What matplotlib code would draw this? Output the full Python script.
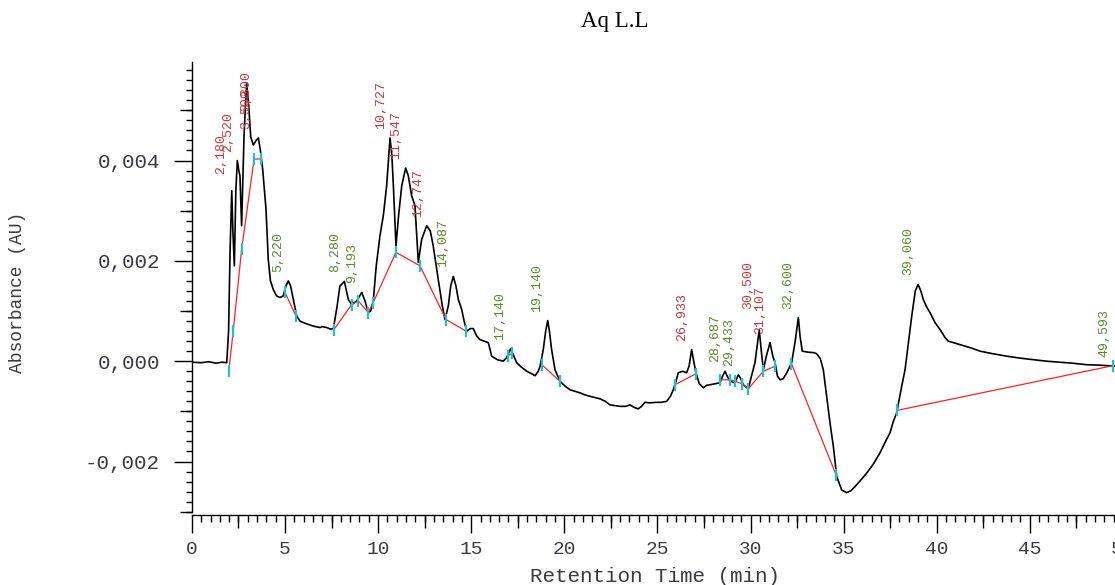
import numpy as np
import matplotlib
matplotlib.use("Agg")
import matplotlib.pyplot as plt
from matplotlib.ticker import MultipleLocator, FixedLocator, FuncFormatter

# ---------------- data ----------------
time_min = [0.0, 0.5, 0.9, 1.3, 1.6, 1.87, 1.97, 2.05, 2.14, 2.20, 2.28, 2.36, 2.44, 2.52, 2.58, 2.67,
            2.80, 2.94, 3.05, 3.16, 3.30, 3.45, 3.57, 3.68, 3.80, 3.98, 4.10, 4.22, 4.37, 4.55, 4.73,
            4.90, 5.05, 5.18, 5.30, 5.45, 5.63, 5.80, 5.98, 6.2, 6.52, 6.88, 7.0, 7.24, 7.45, 7.6, 7.8,
            7.95, 8.19, 8.30, 8.40, 8.58, 8.85, 9.12, 9.30, 9.47, 9.60, 9.74, 9.90, 10.10, 10.28, 10.46,
            10.64, 10.74, 10.82, 10.96, 11.1, 11.27, 11.48, 11.62, 11.80, 11.98, 12.16, 12.34, 12.61,
            12.80, 12.96, 13.23, 13.45, 13.59, 13.77, 13.90, 14.04, 14.18, 14.31, 14.49, 14.62, 14.76,
            14.95, 15.11, 15.3, 15.47, 15.7, 15.92, 16.10, 16.4, 16.72, 16.9, 17.12, 17.26, 17.44, 17.7,
            17.98, 18.2, 18.43, 18.60, 18.70, 18.87, 19.0, 19.11, 19.2, 19.32, 19.50, 19.77, 20.05,
            20.31, 20.84, 21.1, 21.38, 21.92, 22.2, 22.45, 22.99, 23.3, 23.52, 23.75, 23.97, 24.15,
            24.33, 24.6, 24.96, 25.2, 25.5, 25.7, 25.85, 26.0, 26.12, 26.35, 26.57, 26.7, 26.84, 26.95,
            27.07, 27.25, 27.47, 27.65, 27.82, 28.1, 28.36, 28.5, 28.63, 28.75, 28.9, 29.16, 29.35,
            29.48, 29.61, 29.88, 30.05, 30.24, 30.47, 30.58, 30.69, 30.85, 31.05, 31.2, 31.32, 31.45,
            31.59, 31.75, 31.95, 32.21, 32.40, 32.57, 32.66, 32.78, 33.1, 33.4, 33.55, 33.75, 33.91,
            34.09, 34.27, 34.45, 34.63, 34.9, 35.17, 35.4, 35.61, 35.9, 36.24, 36.6, 36.95, 37.25,
            37.49, 37.67, 37.85, 38.12, 38.30, 38.39, 38.66, 38.85, 39.0, 39.15, 39.28, 39.46, 39.64,
            39.91, 40.18, 40.45, 40.62, 40.9, 41.25, 41.8, 42.33, 43.0, 43.76, 44.5, 45.19, 45.9,
            46.62, 47.3, 48.06, 48.8, 49.6]
absorbance = [-0.00002, -0.00003, -0.00001, -0.00004, -0.00002, -0.00003, 0.0006, 0.0022, 0.0034,
              0.0026, 0.0019, 0.0034, 0.0040, 0.0038, 0.0037, 0.0027, 0.0045, 0.00555, 0.0051,
              0.00447, 0.00431, 0.0044, 0.00445, 0.0042, 0.00383, 0.00303, 0.00203, 0.0016, 0.00143,
              0.0013, 0.00127, 0.0013, 0.0015, 0.0016, 0.0015, 0.00123, 0.0009, 0.0008, 0.00077,
              0.00074, 0.0007, 0.00067, 0.00069, 0.00067, 0.00064, 0.00065, 0.0011, 0.0015, 0.00159,
              0.0014, 0.00123, 0.00113, 0.0012, 0.00137, 0.0012, 0.00097, 0.001, 0.0012, 0.0019,
              0.0025, 0.0029, 0.0035, 0.00445, 0.0041, 0.0035, 0.0023, 0.0029, 0.0035, 0.00385,
              0.0037, 0.0033, 0.0031, 0.00197, 0.00243, 0.0027, 0.0026, 0.0023, 0.00163, 0.0011,
              0.00083, 0.0011, 0.0015, 0.00169, 0.0015, 0.00123, 0.00103, 0.0008, 0.0006, 0.00065,
              0.00065, 0.0005, 0.00043, 0.0004, 0.00037, 0.0001, 0.00003, 0.0, 0.00007, 0.00025,
              0.00013, -0.00003, -0.00012, -0.0002, -0.00024, -0.00029, -0.0002, -0.0001, 0.00023,
              0.0006, 0.00081, 0.0006, 0.00023, -0.00017, -0.0004, -0.0005, -0.00057, -0.00063,
              -0.00067, -0.0007, -0.00075, -0.0008, -0.00087, -0.0009, -0.0009, -0.00087, -0.00092,
              -0.00095, -0.0009, -0.00082, -0.00083, -0.00082, -0.00082, -0.0008, -0.0007, -0.00057,
              -0.0004, -0.00023, -0.0002, -0.00023, -0.0001, 0.00023, 0.0, -0.00023, -0.00045,
              -0.00053, -0.00048, -0.00047, -0.00045, -0.00043, -0.0003, -0.0002, -0.0003, -0.0004,
              -0.00043, -0.00027, -0.00035, -0.00047, -0.00055, -0.0003, -0.00003, 0.00063, 0.0002,
              -0.00017, 0.0001, 0.00037, 0.0001, -0.00003, -0.0003, -0.00037, -0.00035, -0.00023,
              -0.00003, 0.0004, 0.00087, 0.0005, 0.0002, 0.00018, 0.00017, 0.00015, 0.00005, -0.00017,
              -0.0007, -0.00123, -0.0017, -0.0023, -0.00257, -0.00262, -0.00258, -0.0025, -0.00238,
              -0.00223, -0.00205, -0.00183, -0.0016, -0.00143, -0.0012, -0.00103, -0.0005, -0.00017,
              0.0001, 0.0009, 0.0014, 0.00153, 0.0014, 0.00123, 0.00108, 0.00097, 0.00077, 0.00063,
              0.00047, 0.0004, 0.00037, 0.00033, 0.00027, 0.0002, 0.00015, 0.0001, 0.00006, 0.00003,
              0.0, -0.00002, -0.00004, -0.00007, -0.00008, -0.0001]

# integration baselines (time, absorbance) per group
baseline_t = [[1.98, 2.22, 2.67, 3.34, 3.69],
              [5.0, 5.59],
              [7.63, 8.58, 8.94, 9.47, 9.74, 10.96, 12.25, 13.65, 14.72],
              [16.95, 17.2],
              [18.79, 19.77],
              [25.94, 27.07],
              [28.36, 28.9, 29.16, 29.55, 29.88, 30.69, 31.32],
              [32.2, 34.6],
              [37.88, 49.45]]
baseline_v = [[-0.0002, 0.0006, 0.00223, 0.00403, 0.00403],
              [0.00137, 0.0009],
              [0.00063, 0.00113, 0.0012, 0.00097, 0.00117, 0.00217, 0.0019, 0.00083, 0.0006],
              [0.0001, 0.00016],
              [-0.00007, -0.0004],
              [-0.00047, -0.00025],
              [-0.00037, -0.00037, -0.0004, -0.00045, -0.00055, -0.0002, -0.0001],
              [-0.00005, -0.00227],
              [-0.00098, -0.00009]]

peak_labels = ["2,180", "2,520", "3,300", "3,500", "5,220", "8,280", "9,193", "10,727", "11,547",
               "12,747", "14,087", "17,140", "19,140", "26,933", "28,687", "29,433", "30,500",
               "31,107", "32,600", "39,060", "49,593"]
peak_kind = ["r", "r", "r", "r", "g", "g", "g", "r", "r", "r", "g", "g", "g", "r", "g", "g", "r",
             "r", "g", "g", "g"]

x_ticks = [0, 5, 10, 15, 20, 25, 30, 35, 40, 45, 50]
y_ticks = [-0.002, 0.0, 0.002, 0.004]

# ---------------- figure ----------------
W, H = 1115, 585
fig = plt.figure(figsize=(W / 100, H / 100), dpi=100)
ax = fig.add_axes([191.9 / W, (H - 511.7) / H, 931 / W, 450 / H])
ax.set_xlim(0, 50)
ax.set_ylim(-0.003, 0.00597)

mono = "Liberation Mono"
tick_color = "#3a3a44"
red_lab = "#c8383c"
green_lab = "#5a8c2a"

t = np.array(time_min)
a = np.array(absorbance)
ax.plot(t, a, color="black", lw=1.2, zorder=3, solid_joinstyle="round")

for bt, bv in zip(baseline_t, baseline_v):
    ax.plot(bt, bv, color="#ff2020", lw=0.9, zorder=4)
    ax.plot(bt, bv, ls="none", marker="|", ms=9, mew=1.6, color="#18c4d0", zorder=5)

# peak labels
tt = np.linspace(0, 50, 20001)
aa = np.interp(tt, t, a)
extra = {"3,300": (2.9, 0), "30,500": (0, 8)}
for lab, kind in zip(peak_labels, peak_kind):
    rt = float(lab.replace(",", "."))
    m = (tt > rt - 0.2) & (tt < rt + 0.2)
    pv = aa[m].max()
    dx, dy = extra.get(lab, (0, 0))
    ax.annotate(lab, xy=(rt, pv), xytext=(-8 + dx, 6.5 + dy), textcoords="offset points",
                rotation=90, ha="center", va="bottom", fontsize=9.5, family=mono,
                color=red_lab if kind == "r" else green_lab, zorder=6, annotation_clip=False)

# spines
for s in ("top", "right"):
    ax.spines[s].set_visible(False)
ax.spines["bottom"].set_position(("outward", 2.2))
ax.spines["left"].set_linewidth(1.0)
ax.spines["bottom"].set_linewidth(1.0)

# x ticks
ax.xaxis.set_major_locator(FixedLocator(x_ticks))
ax.xaxis.set_minor_locator(MultipleLocator(0.5))
ax.xaxis.set_major_formatter(FuncFormatter(lambda v, p: f"{v:.0f}"))
ax.tick_params(axis="x", which="major", length=13, width=1.0, direction="out", pad=6,
               labelsize=14, labelcolor=tick_color)
ax.tick_params(axis="x", which="minor", length=5, width=1.0, direction="out")
for lab in ax.get_xticklabels():
    lab.set_family(mono)
secx = ax.secondary_xaxis(-3 / 450)
secx.set_xticks(np.arange(2.5, 50, 5))
secx.tick_params(axis="x", length=9, width=1.0, labelbottom=False)
secx.spines["bottom"].set_visible(False)

# y ticks
ax.yaxis.set_major_locator(FixedLocator(y_ticks))
ax.yaxis.set_minor_locator(MultipleLocator(0.0002))
ax.yaxis.set_major_formatter(FuncFormatter(lambda v, p: f"{v:.3f}".replace(".", ",")))
ax.tick_params(axis="y", which="major", length=13, width=1.0, direction="out", pad=10,
               labelsize=15, labelcolor=tick_color)
ax.tick_params(axis="y", which="minor", length=4, width=1.0, direction="out")
for lab in ax.get_yticklabels():
    lab.set_family(mono)
secy = ax.secondary_yaxis(0)
secy.set_yticks(np.arange(-0.003, 0.0061, 0.002))
secy.tick_params(axis="y", length=9, width=1.0, labelleft=False)
secy.spines["left"].set_visible(False)

# titles
fig.text(615 / W, 1 - 22 / H, "Aq L.L", ha="center", va="center", fontsize=16.5,
         family="Liberation Serif", color="black")
fig.text(18 / W, 1 - 292 / H, "Absorbance (AU)", rotation=90, ha="center", va="center",
         fontsize=13, family=mono, color=tick_color)
fig.text(655 / W, 1 - 577 / H, "Retention Time (min)", ha="center", va="center",
         fontsize=15, family=mono, color=tick_color)

fig.savefig("out.png", dpi=100)
